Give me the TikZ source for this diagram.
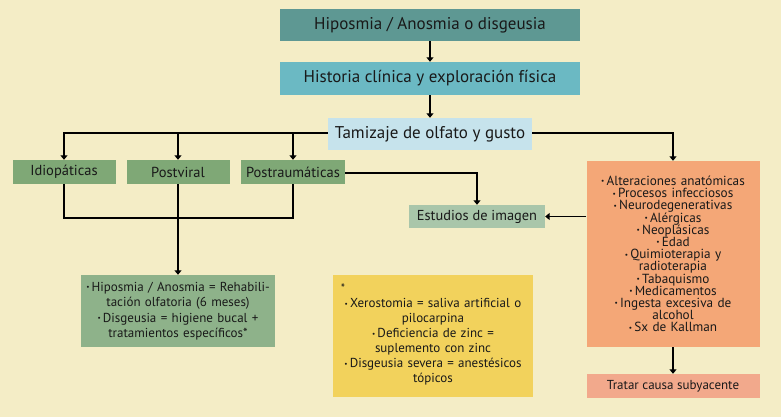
\documentclass[tikz,border=0pt]{standalone}
\usepackage{fontspec}
\setmainfont{PT Sans}
\usetikzlibrary{arrows.meta,positioning}
\definecolor{bg}{HTML}{F4EDC6}
\definecolor{cA}{HTML}{5E9893}
\definecolor{cB}{HTML}{6BB9C3}
\definecolor{cC}{HTML}{C6E3EC}
\definecolor{cG}{HTML}{7FA876}
\definecolor{cE}{HTML}{A9C6AA}
\definecolor{cO}{HTML}{F4A777}
\definecolor{cT}{HTML}{F2A98C}
\definecolor{cL}{HTML}{8EB28A}
\definecolor{cY}{HTML}{F2D25C}
\newcommand\bl{\raisebox{.25ex}{\scalebox{.55}{•}}\,}
\newcommand\tightlines{\lineskiplimit=-20pt\relax\lineskip=0pt\relax}
\tikzset{
  box/.style={inner sep=1pt, align=center, text=black!90},
  arr/.style={-{Triangle[width=7pt,length=4.5pt]}, line width=1.1pt},
  ln/.style={line width=1.1pt},
}
\begin{document}
\begin{tikzpicture}[x=1pt,y=1pt]
\fill[bg] (0,0) rectangle (781,-417);
\useasboundingbox (0,0) rectangle (781,-417);
\node[box, fill=cA, minimum width=300pt, minimum height=32pt, font=\fontsize{17}{19}\selectfont] (b1) at (430,-25) {Hiposmia / Anosmia o disgeusia};
\node[box, fill=cB, minimum width=300pt, minimum height=33pt, font=\fontsize{17}{19}\selectfont] (b2) at (430,-78.5) {Historia clínica y exploración física};
\node[box, fill=cC, minimum width=204pt, minimum height=32pt, font=\fontsize{17}{19}\selectfont] (b3) at (430,-134) {Tamizaje de olfato y gusto};
\node[box, fill=cG, minimum width=103pt, minimum height=24pt, font=\fontsize{14.5}{16}\selectfont] (idio) at (64,-172) {Idiopáticas};
\node[box, fill=cG, minimum width=103pt, minimum height=24pt, font=\fontsize{14.5}{16}\selectfont] (pv) at (178,-172) {Postviral};
\node[box, fill=cG, minimum width=104pt, minimum height=24pt, font=\fontsize{14.5}{16}\selectfont] (pt) at (293,-172) {Postraumáticas};
\node[box, fill=cE, minimum width=136pt, minimum height=23pt, font=\fontsize{14.4}{16}\selectfont] (est) at (477,-216.5) {Estudios de imagen};
\node[box, fill=cO, minimum width=173pt, minimum height=186pt, text width=168pt, font=\fontsize{13.2}{12.2}\selectfont\tightlines] (or) at (673,-254) {\bl Alteraciones anatómicas\\\bl Procesos infecciosos\\\bl Neurodegenerativas\\\bl Alérgicas\\\bl Neoplásicas\\\bl Edad\\\bl Quimioterapia y\\radioterapia\\\bl Tabaquismo\\\bl Medicamentos\\\bl Ingesta excesiva de\\alcohol\\\bl Sx de Kallman};
\node[box, fill=cT, minimum width=173pt, minimum height=24pt, font=\fontsize{13}{15}\selectfont] (tr) at (673,-386) {Tratar causa subyacente};
\node[box, fill=cL, minimum width=194pt, minimum height=72pt, text width=190pt, font=\fontsize{13}{15.5}\selectfont] (gr) at (178,-311) {\bl Hiposmia / Anosmia = Rehabili-\\tación olfatoria (6 meses)\\\bl Disgeusia = higiene bucal +\\tratamientos específicos*};
\node[box, fill=cY, minimum width=200pt, minimum height=122pt] (ye) at (433,-336) {};
\node[box, text width=196pt, font=\fontsize{13}{15}\selectfont] (yt) at (433,-342) {\bl Xerostomia = saliva artificial o\\pilocarpina\\\bl Deficiencia de zinc =\\suplemento con zinc\\\bl Disgeusia severa = anestésicos\\tópicos};
\node[box, font=\fontsize{12}{13}\selectfont] (ast) at (343,-288) {*};
% connectors
\draw[arr] (b1) -- (b2);
\draw[arr] (b2) -- (b3);
\draw[arr] (b3.west |- 0,-133) -| (idio.north);
\draw[arr] (b3.east |- 0,-133) -| (or.north);
\coordinate (c1) at (178,-133);
\coordinate (c2) at (293,-133);
\draw[arr] (c1) -- (pv.north);
\draw[arr] (c2) -- (pt.north);
\coordinate (j) at (178,-218);
\draw[ln] (idio.south) |- (j) -| (pt.south);
\draw[arr] (pv.south) -- (gr.north);
\draw[arr] (pt.east |- 0,-173) -| (est.north);
\draw[arr] (or.west |- est.east) -- (est.east);
\draw[arr] (or.south) -- (tr.north);
\end{tikzpicture}
\end{document}
